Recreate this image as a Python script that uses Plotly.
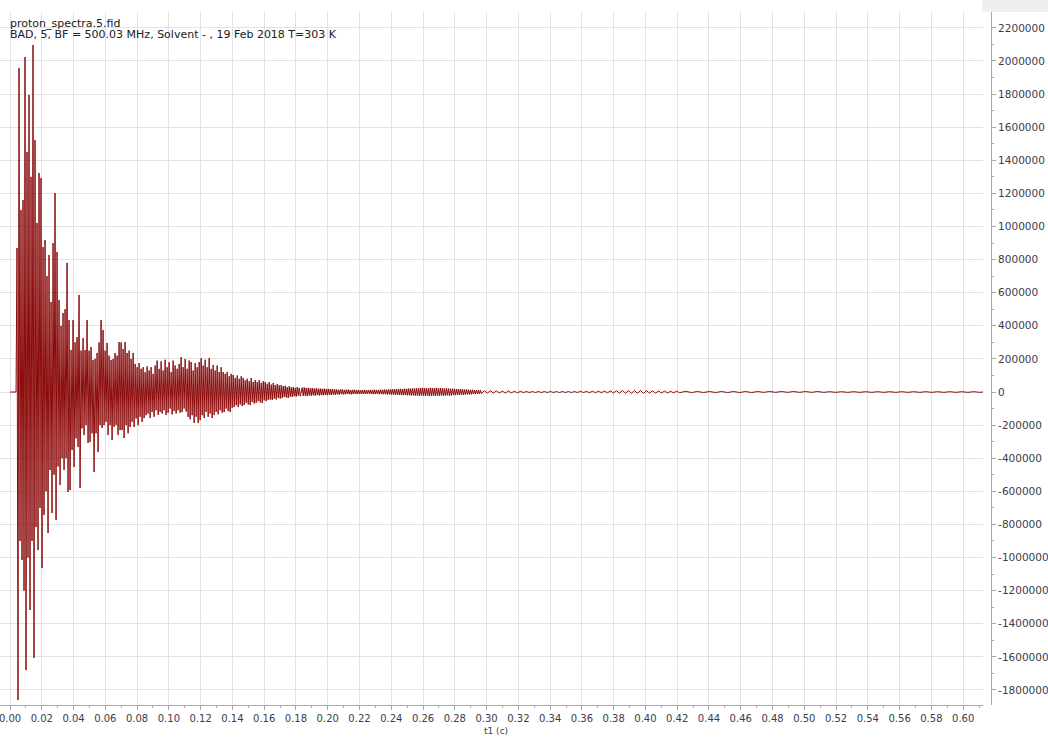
import plotly.graph_objects as go

# ---- data (FID amplitudes, in thousands) ----
# each segment: start time (s), dwell step (s), sampled amplitudes
seg_pre_t0, seg_pre_dt = 0.0, 0.0019
seg_pre_k = [0, 0, 0]

seg_a_t0, seg_a_dt = 0.00441, 0.00063
seg_a_k = [870, -1861, 1958, -900, 1100, -1015, 1160, -1200, 2024, -1680,
           1450, -1000, 1795, -1317, 1300, -900, 2097, -1607, 1522, -816,
           1021, -955, 1323, -700, 1293, -1063, 876, -743, 918, -600,
           700, -852, 828, -471, 544, -731, 900, -500, 1202, -773,
           846, -450, 556, -562, 400, -400, 477, -471, 500, -400,
           780, -604, 435, -592, 254, -350, 435, -453, 300, -280,
           332, -332, 586, -580, 250, -220, 326, -260, 254, -200,
           435, -308, 250, -302, 272, -250, 193, -483, 200, -250,
           236, -362, 300, -200, 435, -217, 375, -200, 250, -180,
           296, -260, 220, -200, 193, -290, 200, -210, 236, -200,
           220, -260, 302, -230]

seg_b_t0, seg_b_dt = 0.06993, 0.00063
seg_b_k = [300, -230, 260, -278, 302, -200, 236, -250, 250, -211,
           200, -180, 236, -211, 170, -160, 150, -200, 175, -150,
           140, -180, 150, -157, 120, -140, 155, -130, 130, -157,
           150, -120, 110, -150, 160, -110, 190, -139, 140, -120,
           185, -130, 130, -110, 195, -139, 150, -125, 180, -100,
           120, -135, 190, -115, 160, -130, 140, -110, 170, -125,
           211, -121, 150, -100, 200, -118, 140, -150, 190, -165,
           181, -140, 130, -187, 175, -150, 150, -187, 181, -170,
           205, -140, 160, -157, 195, -120, 150, -150, 205, -130,
           140, -157, 163, -139, 130, -120, 160, -135, 120, -110,
           150, -125, 121, -121, 110, -100, 121, -115, 95, -121,
           110, -95, 103, -91, 85, -80, 100, -91, 80, -75,
           95, -85, 85, -79, 70, -65, 80, -75, 65, -79,
           85, -60, 60, -70, 72, -66, 60, -55, 72, -62,
           55, -66, 65, -50, 60, -55, 50, -48, 60, -45,
           45, -48, 55, -40, 42, -45, 48, -36, 40, -40,
           42, -36, 35, -30, 38, -33, 30, -36, 35, -28,
           28, -30, 30, -25, 25, -28, 30, -22, 24, -25]

seg_c_t0, seg_c_dt = 0.18396, 0.00063
seg_c_k = [26, -24, 28, -22, 24, -25, 25, -20, 22, -23, 24, -20, 21, -22, 22, -18,
           20, -21, 21, -18, 19, -20, 20, -17, 18, -19, 19, -16, 17, -18,
           18, -15, 15, -17, 16, -14, 14, -16, 15, -13, 16, -15, 13, -14, 14, -12,
           15, -13, 12, -14, 13, -12, 14, -11, 12, -13, 13, -11, 11, -12,
           12, -11, 13, -12, 11, -12, 12, -10, 13, -12, 12, -13, 14, -12, 13, -11,
           12, -13, 14, -12, 13, -14, 15, -13, 14, -15, 16, -14, 15, -16,
           17, -15, 16, -17, 18, -16, 17, -18, 19, -17, 18, -19, 20, -18, 19, -20,
           21, -19, 20, -21, 22, -20, 21, -22, 23, -21, 22, -23, 24, -22,
           25, -22, 23, -24, 24, -21, 22, -25, 25, -23, 24, -22, 23, -24, 25, -22,
           22, -23, 24, -21, 23, -22, 21, -23, 22, -20, 21, -22, 20, -21,
           20, -18, 19, -19, 18, -17, 17, -18, 18, -16, 16, -17, 15, -16, 16, -14,
           14, -15, 13, -14, 14, -12, 12, -13, 12, -11, 11, -12, 11, -10]

seg_e_t0, seg_e_dt = 0.29862, 0.00189
seg_e_k = [8, -7, 8, -7, 7, -6, 6, -6, 6, -5, 5, -5,
           4, -3, 3, -3, 3, -3, 3, -3, 3, -3, 3, -3, 3, -3, 3, -3, 3, -3, 3, -3,
           4, -3, 4, -4, 5, -4, 5, -4, 6, -5,
           7, -6, 8, -7, 9, -7, 9, -8, 9, -8, 9, -8, 8, -7, 8, -7,
           7, -6, 6, -6, 5, -5, 5, -4]

seg_d_t0, seg_d_dt = 0.42525, 0.00378
seg_d_k = [4, -3, 3, -3, 3, -3, 3, -3, 3, -3, 3, -3, 3, -2, 3, -2, 3, -2, 3, -2,
           3, -2, 3, -2, 2, -2, 2, -2, 2, -2, 2, -2, 2, -2, 2, -2, 2, -2, 2, -2,
           2, -2, 2, -2, 2, -2, 2, -2, 2, -2, 2]

x_tick_labels = ["0.00", "0.02", "0.04", "0.06", "0.08", "0.10", "0.12", "0.14",
                 "0.16", "0.18", "0.20", "0.22", "0.24", "0.26", "0.28", "0.30",
                 "0.32", "0.34", "0.36", "0.38", "0.40", "0.42", "0.44", "0.46",
                 "0.48", "0.50", "0.52", "0.54", "0.56", "0.58", "0.60"]
y_tick_labels = ["2200000", "2000000", "1800000", "1600000", "1400000", "1200000",
                 "1000000", "800000", "600000", "400000", "200000", "0",
                 "-200000", "-400000", "-600000", "-800000", "-1000000",
                 "-1200000", "-1400000", "-1600000", "-1800000"]

title_line1 = "proton_spectra.5.fid"
title_line2 = "BAD, 5, BF = 500.03 MHz, Solvent - , 19 Feb 2018 T=303 K"
x_title = "t1 (c)"

# ---- assemble ----
segments = [(seg_pre_t0, seg_pre_dt, seg_pre_k), (seg_a_t0, seg_a_dt, seg_a_k),
            (seg_b_t0, seg_b_dt, seg_b_k), (seg_c_t0, seg_c_dt, seg_c_k),
            (seg_e_t0, seg_e_dt, seg_e_k), (seg_d_t0, seg_d_dt, seg_d_k)]
t, y = [], []
for t0, dt, vals in segments:
    for i, v in enumerate(vals):
        t.append(t0 + i * dt)
        y.append(v * 1000)

W, H = 1048, 737
ml, mr, mt, mb = 0, 57, 12, 32
pw, ph = W - ml - mr, H - mt - mb

fig = go.Figure()
fig.add_trace(go.Scatter(x=t, y=y, mode="lines",
                         line=dict(color="#8b0b0b", width=1),
                         hoverinfo="skip", showlegend=False))

tick_font = dict(family="DejaVu Sans", size=10, color="#3c3c4c")
grid_c = "#e2e2e2"
axis_c = "#a8a8a8"

fig.update_layout(
    width=W, height=H,
    margin=dict(l=ml, r=mr, t=mt, b=mb, pad=0),
    paper_bgcolor="white", plot_bgcolor="white",
    showlegend=False,
    xaxis=dict(
        domain=[0, 983 / pw],
        range=[-0.0063, 0.6125],
        tickmode="array",
        tickvals=[float(s) for s in x_tick_labels],
        ticktext=x_tick_labels,
        ticks="outside", ticklen=4, tickcolor=axis_c,
        showline=True, linecolor=axis_c, linewidth=1,
        showgrid=True, gridcolor=grid_c, gridwidth=1,
        zeroline=False,
        tickfont=tick_font,
        ticklabeloverflow="allow",
        minor=dict(tick0=0, dtick=0.01, ticks="outside", ticklen=2,
                   tickcolor=axis_c, showgrid=False),
        automargin=False,
    ),
    yaxis=dict(
        anchor="free", position=1.0, side="right",
        range=[-1891000, 2296000],
        tickmode="array",
        tickvals=[int(s) for s in y_tick_labels],
        ticktext=y_tick_labels,
        ticks="outside", ticklen=4, tickcolor=axis_c,
        showline=True, linecolor=axis_c, linewidth=1,
        showgrid=True, gridcolor=grid_c, gridwidth=1,
        zeroline=False,
        tickfont=dict(family="DejaVu Sans", size=10.5, color="#3c3c4c"),
        ticklabeloverflow="allow",
        minor=dict(tick0=0, dtick=100000, ticks="outside", ticklen=2,
                   tickcolor=axis_c, showgrid=False),
        automargin=False,
    ),
    shapes=[dict(type="rect", xref="paper", yref="paper",
                 x0=982 / pw, x1=W / pw, y0=1.0, y1=1 + mt / ph,
                 fillcolor="#efefef", line=dict(width=0), layer="below")],
    annotations=[
        dict(text=title_line1, xref="paper", yref="paper", x=8 / pw, y=1 + (mt - 15) / ph,
             xanchor="left", yanchor="top", showarrow=False,
             font=dict(family="DejaVu Sans", size=11, color="#202020")),
        dict(text=title_line2, xref="paper", yref="paper", x=8 / pw, y=1 + (mt - 26) / ph,
             xanchor="left", yanchor="top", showarrow=False,
             font=dict(family="DejaVu Sans", size=11, color="#202020")),
        dict(text=x_title, xref="paper", yref="paper", x=496 / pw, y=-(724 - 705) / ph,
             xanchor="center", yanchor="top", showarrow=False,
             font=dict(family="DejaVu Sans", size=9, color="#3c3c4c")),
    ],
)

fig.write_html("out.html",
               config={"displayModeBar": False},
               post_script="document.body.style.margin='0';document.body.style.padding='0';")
